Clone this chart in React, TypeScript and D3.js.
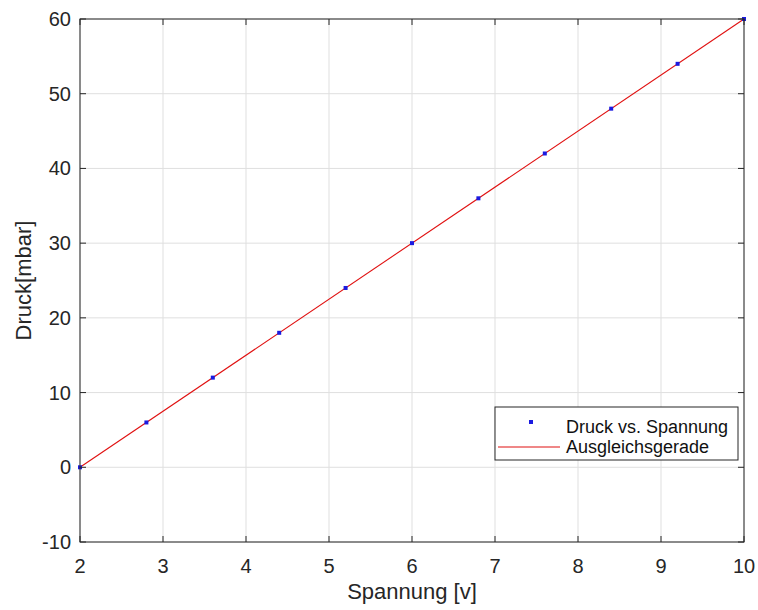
import React from "react";
import * as d3 from "d3";

const spannung = [2, 2.8, 3.6, 4.4, 5.2, 6.0, 6.8, 7.6, 8.4, 9.2, 10];
const druck = [0, 6, 12, 18, 24, 30, 36, 42, 48, 54, 60];
const fitX = [2, 10];
const fitY = [0, 60];
const xTicks = [2, 3, 4, 5, 6, 7, 8, 9, 10];
const yTicks = [-10, 0, 10, 20, 30, 40, 50, 60];
const legendLabels = ["Druck vs. Spannung", "Ausgleichsgerade"];

export default function App() {
  const W = 758, H = 610;
  const L = 80, R = 744, T = 19, B = 542;
  const x = d3.scaleLinear().domain([2, 10]).range([L, R]);
  const y = d3.scaleLinear().domain([-10, 60]).range([B, T]);
  const line = d3.line<number>().x((_, i) => x(fitX[i])).y((d) => y(d));
  const axisColor = "#262626";
  const font = "'Liberation Sans', Arial, sans-serif";
  return (
    <svg width={W} height={H} style={{ position: "absolute", left: 0, top: 0, background: "#fff" }} fontFamily={font}>
      <rect x={0} y={0} width={W} height={H} fill="#fff" />
      {xTicks.map((t) => (
        <line key={"gx" + t} x1={x(t)} x2={x(t)} y1={T} y2={B} stroke="#dfdfdf" strokeWidth={1} />
      ))}
      {yTicks.map((t) => (
        <line key={"gy" + t} x1={L} x2={R} y1={y(t)} y2={y(t)} stroke="#dfdfdf" strokeWidth={1} />
      ))}
      <path d={line(fitY) || ""} fill="none" stroke="#e01010" strokeWidth={1.1} />
      {spannung.map((v, i) => (
        <rect key={"p" + i} x={x(v) - 2} y={y(druck[i]) - 2} width={4} height={4} fill="#1a1ae0" />
      ))}
      <rect x={L} y={T} width={R - L} height={B - T} fill="none" stroke={axisColor} strokeWidth={1} />
      {xTicks.map((t) => (
        <g key={"tx" + t}>
          <line x1={x(t)} x2={x(t)} y1={B} y2={B - 6} stroke={axisColor} />
          <line x1={x(t)} x2={x(t)} y1={T} y2={T + 6} stroke={axisColor} />
          <text x={x(t)} y={573} textAnchor="middle" fontSize={20} fill={axisColor}>{t}</text>
        </g>
      ))}
      {yTicks.map((t) => (
        <g key={"ty" + t}>
          <line x1={L} x2={L + 6} y1={y(t)} y2={y(t)} stroke={axisColor} />
          <line x1={R} x2={R - 6} y1={y(t)} y2={y(t)} stroke={axisColor} />
          <text x={71} y={y(t) + 7} textAnchor="end" fontSize={20} fill={axisColor}>{t}</text>
        </g>
      ))}
      <text x={(L + R) / 2} y={599} textAnchor="middle" fontSize={22} fill={axisColor}>Spannung [v]</text>
      <text transform={`translate(31, ${(T + B) / 2}) rotate(-90)`} textAnchor="middle" fontSize={22} fill={axisColor}>Druck[mbar]</text>
      <g>
        <rect x={495} y={407} width={243} height={53} fill="#fff" stroke={axisColor} strokeWidth={1} />
        <rect x={529} y={420} width={4} height={4} fill="#1a1ae0" />
        <line x1={498} x2={560} y1={447} y2={447} stroke="#e01010" strokeWidth={1.1} />
        <text x={566} y={433} fontSize={18} fill="#111">{legendLabels[0]}</text>
        <text x={566} y={453} fontSize={18} fill="#111">{legendLabels[1]}</text>
      </g>
    </svg>
  );
}
